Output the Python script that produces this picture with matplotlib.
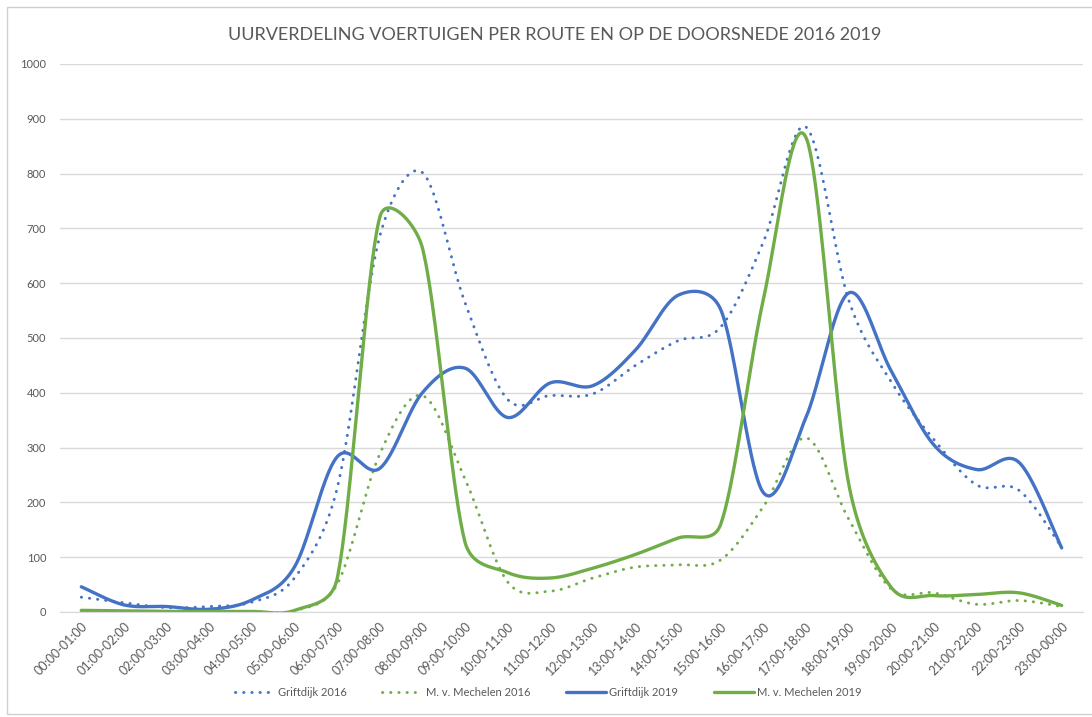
import numpy as np
import matplotlib
matplotlib.use("Agg")
import matplotlib.pyplot as plt
from matplotlib.lines import Line2D

plt.rcParams["font.family"] = ["Lato", "DejaVu Sans"]

HOURS = [f"{h:02d}:00-{(h + 1) % 24:02d}:00" for h in range(24)]

griftdijk_2016 = [27, 17, 8, 10, 18, 62, 225, 685, 802, 565, 388, 395,
                  398, 450, 495, 520, 675, 885, 570, 420, 315, 232, 222, 118]
mechelen_2016 = [2, 1, 1, 1, 1, 2, 50, 288, 395, 243, 55, 38,
                 62, 82, 86, 95, 192, 318, 170, 42, 35, 14, 21, 10]
griftdijk_2019 = [46, 13, 10, 5, 22, 82, 283, 262, 400, 445, 355, 418,
                  413, 478, 578, 552, 218, 355, 582, 440, 305, 260, 273, 117]
mechelen_2019 = [3, 2, 1, 1, 1, 3, 60, 720, 665, 128, 72, 62,
                 80, 105, 135, 160, 570, 866, 235, 45, 30, 32, 35, 12]

BLUE = "#4472C4"
GREEN = "#70AD47"
TEXT = "#595959"
GRID = "#D9D9D9"

SERIES = [
    ("Griftdijk 2016", griftdijk_2016, BLUE, "dot"),
    ("M. v. Mechelen 2016", mechelen_2016, GREEN, "dot"),
    ("Griftdijk 2019", griftdijk_2019, BLUE, "solid"),
    ("M. v. Mechelen 2019", mechelen_2019, GREEN, "solid"),
]


def smooth_line(ax, xs, ys, n=40):
    # bezier smoothing in screen space, control arms capped at half a segment
    pts = ax.transData.transform(np.column_stack([xs, ys]).astype(float))
    out = [pts[:1]]
    t = np.linspace(0, 1, n)[1:, None]
    for i in range(len(pts) - 1):
        p0 = pts[i - 1] if i > 0 else pts[i]
        p1, p2 = pts[i], pts[i + 1]
        p3 = pts[i + 2] if i + 2 < len(pts) else pts[i + 1]
        d12 = np.hypot(*(p2 - p1))
        d02 = np.hypot(*(p2 - p0))
        d13 = np.hypot(*(p3 - p1))
        f1 = f2 = 1 / 6
        if d02 > 0 and d02 / 6 > d12 / 2:
            f1 = d12 / 2 / d02
        if d13 > 0 and d13 / 6 > d12 / 2:
            f2 = d12 / 2 / d13
        c1 = p1 + f1 * (p2 - p0)
        c2 = p2 - f2 * (p3 - p1)
        seg = ((1 - t) ** 3 * p1 + 3 * (1 - t) ** 2 * t * c1
               + 3 * (1 - t) * t ** 2 * c2 + t ** 3 * p2)
        out.append(seg)
    return ax.transData.inverted().transform(np.vstack(out))


fig = plt.figure(figsize=(10.92, 7.17), dpi=100)
ax = fig.add_axes([60 / 1092, 1 - 612 / 717, (1083 - 60) / 1092, (612 - 64) / 717])

x = np.arange(len(HOURS))
ax.set_xlim(-0.5, len(HOURS) - 0.5)
ax.set_ylim(0, 1000)
ax.set_yticks(range(0, 1001, 100))
ax.set_xticks(x)
ax.set_xticklabels(HOURS, rotation=45, ha="right", rotation_mode="anchor")

ax.grid(axis="y", color=GRID, linewidth=1)
ax.set_axisbelow(True)
for side in ["top", "right", "left"]:
    ax.spines[side].set_visible(False)
ax.spines["bottom"].set_color(GRID)
ax.tick_params(length=0, colors=TEXT)
ax.tick_params(axis="x", pad=6, labelsize=9)
ax.tick_params(axis="y", pad=10, labelsize=8)

handles = []
for label, values, color, style in SERIES:
    curve = smooth_line(ax, x, values)
    if style == "dot":
        kw = dict(linestyle=(0, (0.1, 2.7)), dash_capstyle="round", linewidth=2.1)
    else:
        kw = dict(linestyle="-", solid_capstyle="round", linewidth=2.4)
    ax.plot(curve[:, 0], curve[:, 1], color=color, **kw)
    handles.append(Line2D([], [], color=color, label=label, **kw))

fig.legend(handles=handles, loc="center", bbox_to_anchor=(548 / 1092, 1 - 692 / 717),
           ncol=4, frameon=False, fontsize=8, handlelength=3.6, handletextpad=0.3,
           columnspacing=3.2, labelcolor=TEXT)

fig.text(555 / 1092, 1 - 35 / 717, "UURVERDELING VOERTUIGEN PER ROUTE EN OP DE DOORSNEDE 2016 2019",
         ha="center", va="center", fontsize=13, color=TEXT)

# chart area border
fig.add_artist(plt.Rectangle((7 / 1092, 3 / 717), 1.2, 1 - 10 / 717, transform=fig.transFigure,
                             fill=False, edgecolor="#D0D0D0", linewidth=1))

fig.savefig("out.png", dpi=100, facecolor="white")
